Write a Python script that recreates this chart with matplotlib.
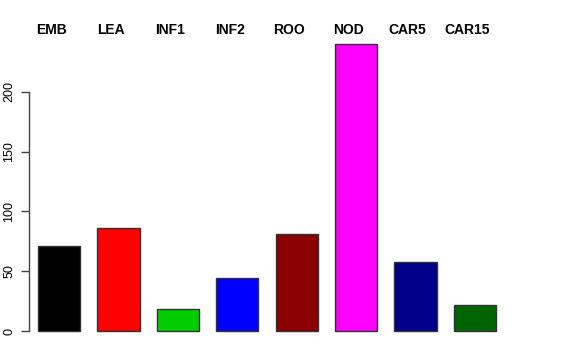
import matplotlib
matplotlib.use("Agg")
import matplotlib.pyplot as plt
import numpy as np

categories = ["EMB", "LEA", "INF1", "INF2", "ROO", "NOD", "CAR5", "CAR15"]
values = [71, 86, 18, 44, 81.5, 240, 58, 22]
colors = ["#000000", "#FF0000", "#00CD00", "#0000FF", "#8B0000", "#FF00FF", "#00008B", "#006400"]
yticks = [0, 50, 100, 150, 200]

plt.rcParams['font.family'] = ['Liberation Sans', 'DejaVu Sans']

W, H = 576, 360
fig = plt.figure(figsize=(W / 100, H / 100), dpi=100)
left, right = 29, 505
top, bottom = 32.4, 342.5
ax = fig.add_axes([left / W, 1 - bottom / H, (right - left) / W, (bottom - top) / H])

x = np.arange(len(categories))
ax.bar(x, values, width=0.712, color=colors, edgecolor="#333333", linewidth=1.0)

ax.set_xlim(-0.51, 7.51)
ax.set_ylim(-9.6, 249.6)

for s in ["top", "right", "bottom"]:
    ax.spines[s].set_visible(False)
ax.spines["left"].set_bounds(0, 200)
ax.spines["left"].set_color("#444444")
ax.spines["left"].set_linewidth(1.0)

ax.set_xticks([])
ax.set_yticks(yticks)
ax.set_yticklabels([str(t) for t in yticks], rotation=90, va="center", fontsize=9)
ax.tick_params(axis="y", length=6, width=1, color="#444444", pad=4)

for i, c in enumerate(categories):
    fig.text((59.3 + 59.3 * i - 7.5) / W, 1 - 30 / H, c, ha="center", va="center",
             fontsize=10, fontweight="bold")

fig.savefig("out.png", dpi=100)
